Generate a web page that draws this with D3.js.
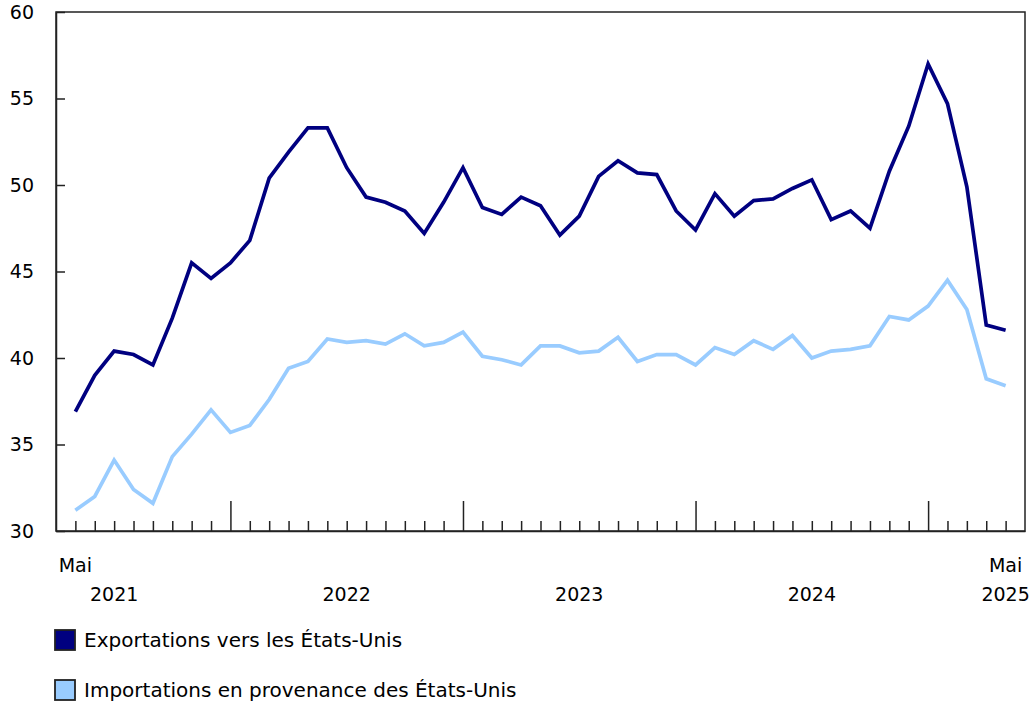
<!DOCTYPE html>
<html>
<head>
<meta charset="utf-8">
<script src="https://cdn.jsdelivr.net/npm/d3@7"></script>
<style>
  body { margin: 0; background: #fff; }
  text { font-family: "DejaVu Sans", Verdana, sans-serif; fill: #000; }
</style>
</head>
<body>
<div id="chart"></div>
<script>
// Mois de mai 2021 à mai 2025
const months = ["Mai 2021", "Juin 2021", "Juil 2021", "Août 2021", "Sept 2021", "Oct 2021", "Nov 2021", "Déc 2021",
  "Jan 2022", "Fév 2022", "Mars 2022", "Avr 2022", "Mai 2022", "Juin 2022", "Juil 2022", "Août 2022", "Sept 2022", "Oct 2022", "Nov 2022", "Déc 2022",
  "Jan 2023", "Fév 2023", "Mars 2023", "Avr 2023", "Mai 2023", "Juin 2023", "Juil 2023", "Août 2023", "Sept 2023", "Oct 2023", "Nov 2023", "Déc 2023",
  "Jan 2024", "Fév 2024", "Mars 2024", "Avr 2024", "Mai 2024", "Juin 2024", "Juil 2024", "Août 2024", "Sept 2024", "Oct 2024", "Nov 2024", "Déc 2024",
  "Jan 2025", "Fév 2025", "Mars 2025", "Avr 2025", "Mai 2025"];

const exportations = [36.9, 39.0, 40.4, 40.2, 39.6, 42.3, 45.5, 44.6,
  45.5, 46.8, 50.4, 51.9, 53.3, 53.3, 51.0, 49.3, 49.0, 48.5, 47.2, 49.0,
  51.0, 48.7, 48.3, 49.3, 48.8, 47.1, 48.2, 50.5, 51.4, 50.7, 50.6, 48.5,
  47.4, 49.5, 48.2, 49.1, 49.2, 49.8, 50.3, 48.0, 48.5, 47.5, 50.8, 53.4,
  57.0, 54.7, 49.9, 41.9, 41.6];

const importations = [31.2, 32.0, 34.1, 32.4, 31.6, 34.3, 35.6, 37.0,
  35.7, 36.1, 37.6, 39.4, 39.8, 41.1, 40.9, 41.0, 40.8, 41.4, 40.7, 40.9,
  41.5, 40.1, 39.9, 39.6, 40.7, 40.7, 40.3, 40.4, 41.2, 39.8, 40.2, 40.2,
  39.6, 40.6, 40.2, 41.0, 40.5, 41.3, 40.0, 40.4, 40.5, 40.7, 42.4, 42.2,
  43.0, 44.5, 42.8, 38.8, 38.4];

const yTicks = [30, 35, 40, 45, 50, 55, 60];
const majorTicks = [8, 20, 32, 44];              // janvier de chaque année
const monthLabels = [{ i: 0, text: "Mai" }, { i: 48, text: "Mai" }];
const yearLabels = [
  { i: 2, text: "2021" }, { i: 14, text: "2022" }, { i: 26, text: "2023" },
  { i: 38, text: "2024" }, { i: 48, text: "2025" }
];
const series = [
  { name: "Exportations vers les États-Unis", values: exportations, color: "#000080" },
  { name: "Importations en provenance des États-Unis", values: importations, color: "#99ccff" }
];

const width = 1033, height = 704;
const margin = { left: 56, right: 1025, top: 12, bottom: 531 };

const svg = d3.select("#chart").append("svg")
  .attr("width", width)
  .attr("height", height);

const x = d3.scaleLinear().domain([-1, months.length]).range([margin.left, margin.right]);
const y = d3.scaleLinear().domain([30, 60]).range([margin.bottom, margin.top]);

// Cadre
svg.append("rect")
  .attr("x", margin.left).attr("y", margin.top)
  .attr("width", margin.right - margin.left).attr("height", margin.bottom - margin.top)
  .attr("fill", "none").attr("stroke", "#222").attr("stroke-width", 1.5);

// Axe vertical
const yAxis = svg.append("g")
  .attr("transform", `translate(${margin.left},0)`)
  .call(d3.axisLeft(y).tickValues(yTicks).tickSizeInner(-9).tickSizeOuter(0).tickPadding(22));
yAxis.select(".domain").attr("stroke", "#222").attr("stroke-width", 1.5);
yAxis.selectAll(".tick line").attr("stroke", "#222").attr("stroke-width", 1.5);
yAxis.selectAll(".tick text").style("font-size", "19px").attr("font-family", null);

// Axe horizontal
const xAxis = svg.append("g")
  .attr("transform", `translate(0,${margin.bottom})`)
  .call(d3.axisBottom(x).tickValues(d3.range(months.length)).tickSizeInner(-10).tickSizeOuter(0).tickFormat(""));
xAxis.select(".domain").attr("stroke", "#222").attr("stroke-width", 1.5);
xAxis.selectAll(".tick line")
  .attr("stroke", "#222").attr("stroke-width", 1.5)
  .attr("y2", d => majorTicks.includes(d) ? -30 : -10);

svg.append("g").selectAll("text")
  .data(monthLabels).join("text")
  .attr("x", d => x(d.i)).attr("y", 565)
  .attr("dy", "0.35em").attr("text-anchor", "middle")
  .style("font-size", "19px")
  .text(d => d.text);

svg.append("g").selectAll("text")
  .data(yearLabels).join("text")
  .attr("x", d => x(d.i)).attr("y", 594)
  .attr("dy", "0.35em").attr("text-anchor", "middle")
  .style("font-size", "19px")
  .text(d => d.text);

// Lignes
const line = d3.line()
  .x((d, i) => x(i))
  .y(d => y(d));

svg.append("g").selectAll("path")
  .data(series.slice().reverse()).join("path")
  .attr("d", d => line(d.values))
  .attr("fill", "none")
  .attr("stroke", d => d.color)
  .attr("stroke-width", 3.7)
  .attr("stroke-linejoin", "miter");

// Légende
const legend = svg.append("g").selectAll("g")
  .data(series).join("g")
  .attr("transform", (d, i) => `translate(55,${630 + i * 50})`);

legend.append("rect")
  .attr("width", 20).attr("height", 20)
  .attr("fill", d => d.color)
  .attr("stroke", "#222").attr("stroke-width", 1.8);

legend.append("text")
  .attr("x", 29).attr("y", 10)
  .attr("dy", "0.35em")
  .style("font-size", "20px")
  .text(d => d.name);
</script>
</body>
</html>
